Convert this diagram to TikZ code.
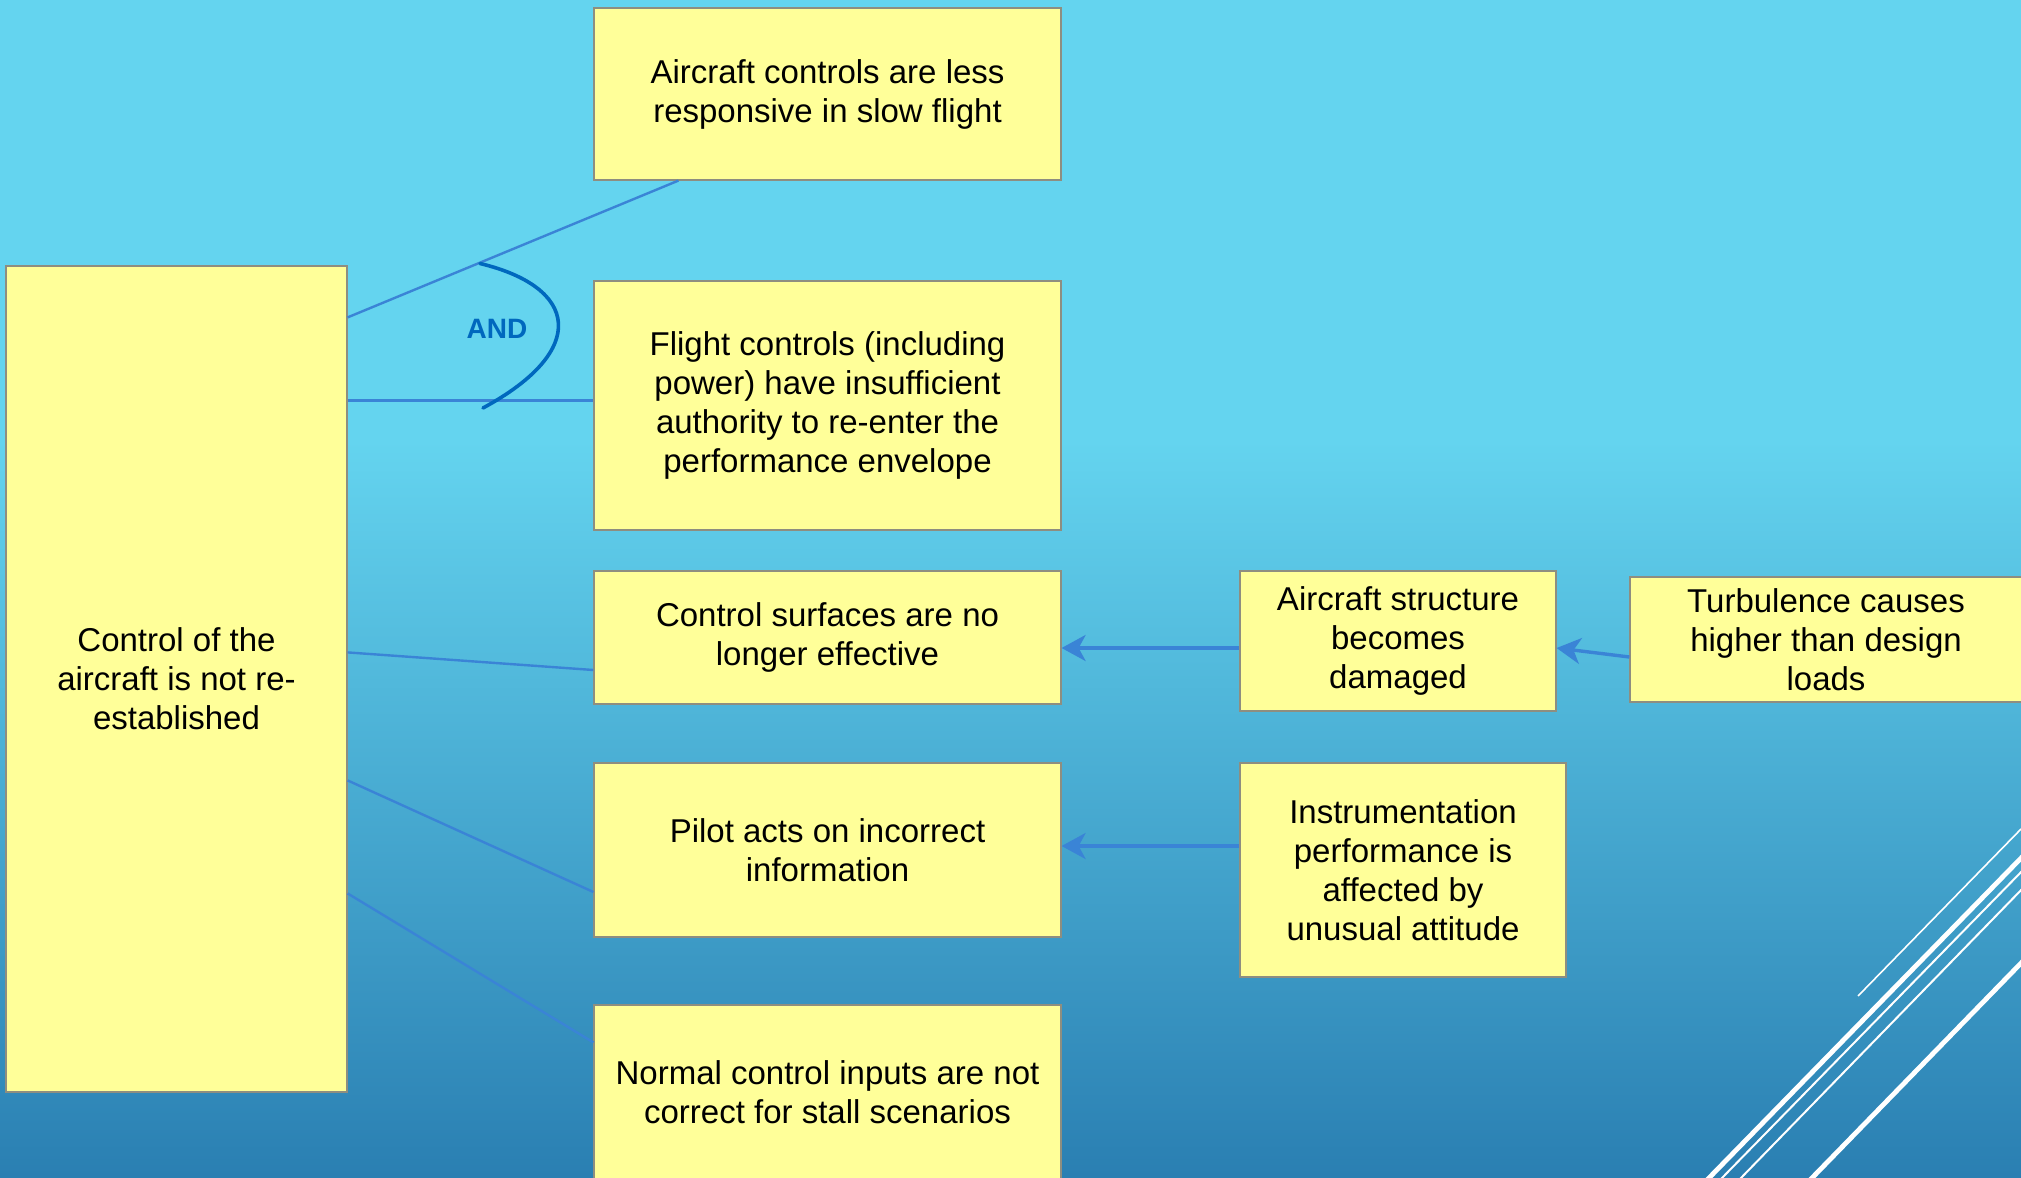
\documentclass[tikz,border=0pt]{standalone}
\usepackage{fontspec}
\setmainfont{Liberation Sans}
\usetikzlibrary{arrows.meta,calc}
\definecolor{bgtop}{HTML}{64D4EF}
\definecolor{bgbot}{HTML}{2A7FB2}
\definecolor{boxfill}{HTML}{FFFF99}
\definecolor{boxline}{HTML}{8E8E80}
\definecolor{conn}{HTML}{3A84D6}
\definecolor{andblue}{HTML}{0068BE}
\tikzset{
  box/.style={draw=boxline, line width=0.6pt, fill=boxfill, align=center, inner sep=0pt,
    font=\fontsize{16.5}{19.5}\selectfont},
  link/.style={draw=conn, line width=1.2pt},
  arrowlink/.style={draw=conn, line width=1.7pt, -{Stealth[length=12pt,width=13pt,inset=3.5pt]}},
  deco/.style={draw=white, line cap=butt},
}
\begin{document}
\begin{tikzpicture}[x=0.5pt,y=-0.5pt]
\clip (0,0) rectangle (2021,1177);
\fill[bgtop] (0,0) rectangle (2021,1177);
\shade[top color=bgtop, bottom color=bgbot] (0,440) rectangle (2021,1177);

% decorative white lines
\draw[deco, line width=0.8pt] (1858,996) -- (2021,829);
\draw[deco, line width=2.4pt] (1706,1181) -- (2025,854);
\draw[deco, line width=1pt] (1719,1181) -- (2025,868);
\draw[deco, line width=1pt] (1738,1181) -- (2025,886);
\draw[deco, line width=2.4pt] (1809,1181) -- (2025,959);

% boxes
\node[box, minimum width=170.5pt, minimum height=413pt] (main) at (176.5,679)
  {Control of the\\aircraft is not re-\\established};
\node[box, minimum width=233.5pt, minimum height=86pt] (b1) at (827.5,94)
  {Aircraft controls are less\\responsive in slow flight};
\node[box, minimum width=233.5pt, minimum height=124.5pt] (b2) at (827.5,405.5)
  {Flight controls (including\\power) have insufficient\\authority to re-enter the\\performance envelope};
\node[box, minimum width=233.5pt, minimum height=66.5pt] (b3) at (827.5,637.5)
  {Control surfaces are no\\longer effective};
\node[box, minimum width=233.5pt, minimum height=87pt] (b4) at (827.5,850)
  {Pilot acts on incorrect\\information};
\node[box, minimum width=233.5pt, minimum height=87.5pt] (b5) at (827.5,1092.5)
  {Normal control inputs are not\\correct for stall scenarios};
\node[box, minimum width=158pt, minimum height=70pt] (b6) at (1398,641)
  {Aircraft structure\\becomes\\damaged};
\node[box, minimum width=196pt, minimum height=62.5pt] (b7) at (1826,639.5)
  {Turbulence causes\\higher than design\\loads};
\node[box, minimum width=163pt, minimum height=107pt] (b8) at (1403,870)
  {Instrumentation\\performance is\\affected by\\unusual attitude};

% connector end points on the main box
\coordinate (m1) at ($(main.north east)+(0,52)$);
\coordinate (m2) at ($(main.north east)+(0,135)$);
\coordinate (m3) at ($(main.north east)+(0,387)$);
\coordinate (m4) at ($(main.north east)+(0,515)$);
\coordinate (m5) at ($(main.north east)+(0,628)$);

\draw[link] (m1) -- ($(b1.south west)+(85,0)$);
\draw[link] (m2) -- (m2 -| b2.west);
\draw[link] (m3) -- ($(b3.west)+(0,32.5)$);
\draw[link] (m4) -- ($(b4.west)+(0,42)$);
\draw[link] (m5) -- ($(b5.north west)+(0,38)$);

% arrows
\coordinate (s6) at ($(b6.west)+(0,7)$);
\coordinate (s7) at ($(b7.west)+(0,17.5)$);
\coordinate (s8) at ($(b8.west)+(0,-24)$);
\draw[arrowlink] (s6) -- (s6 -| b3.east);
\draw[arrowlink] (s7) -- ($(b6.east)+(0,7)$);
\draw[arrowlink] (s8) -- (s8 -| b4.east);

% AND gate
\coordinate (andA) at (480,263.5);
\coordinate (andB) at (483,408);
\draw[andblue, line width=1.8pt, line cap=round] (andA) .. controls (578,287) and (590,350) .. (andB);
\node[text=andblue, font=\bfseries\fontsize{14}{16}\selectfont] (andlbl) at (497,329) {AND};
\end{tikzpicture}
\end{document}
